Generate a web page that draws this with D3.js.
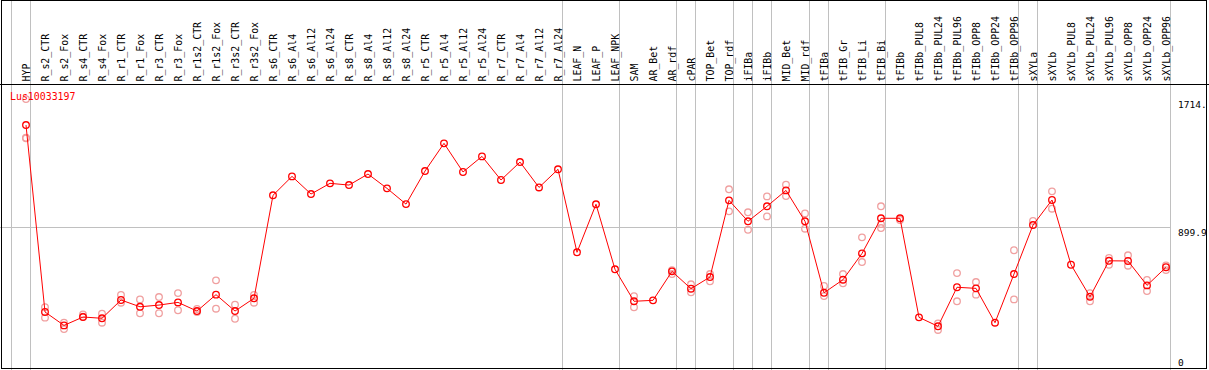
<!DOCTYPE html>
<html>
<head>
<meta charset="utf-8">
<script src="https://cdn.jsdelivr.net/npm/d3@7"></script>
<style>
  html, body { margin: 0; padding: 0; background: #fff; }
  svg { display: block; }
  text { font-family: 'DejaVu Sans Mono', monospace; }
</style>
</head>
<body>
<div id="chart"></div>
<script>
const geneName = 'Lus10033197'

const categories = [
  'HYP', 'R_s2_CTR', 'R_s2_Fox', 'R_s4_CTR', 'R_s4_Fox', 'R_r1_CTR', 'R_r1_Fox',
  'R_r3_CTR', 'R_r3_Fox', 'R_r1s2_CTR', 'R_r1s2_Fox', 'R_r3s2_CTR', 'R_r3s2_Fox',
  'R_s6_CTR', 'R_s6_Al4', 'R_s6_Al12', 'R_s6_Al24', 'R_s8_CTR', 'R_s8_Al4',
  'R_s8_Al12', 'R_s8_Al24', 'R_r5_CTR', 'R_r5_Al4', 'R_r5_Al12', 'R_r5_Al24',
  'R_r7_CTR', 'R_r7_Al4', 'R_r7_Al12', 'R_r7_Al24', 'LEAF_N', 'LEAF_P', 'LEAF_NPK',
  'SAM', 'AR_Bet', 'AR_rdf', 'cPAR', 'TOP_Bet', 'TOP_rdf', 'iFIBa', 'iFIBb',
  'MID_Bet', 'MID_rdf', 'tFIBa', 'tFIB_Gr', 'tFIB_Li', 'tFIB_Bi', 'tFIBb',
  'tFIBb_PUL8', 'tFIBb_PUL24', 'tFIBb_PUL96', 'tFIBb_OPP8', 'tFIBb_OPP24', 'tFIBb_OPP96',
  'sXYLa', 'sXYLb', 'sXYLb_PUL8', 'sXYLb_PUL24', 'sXYLb_PUL96', 'sXYLb_OPP8',
  'sXYLb_OPP24', 'sXYLb_OPP96',
]

// mean expression per sample
const means = [
  1549, 362, 277, 330, 322, 438, 395, 406, 423, 368, 472, 368, 449,
  1103, 1223, 1111, 1179, 1168, 1238, 1147, 1047, 1257, 1433, 1251, 1350,
  1200, 1314, 1153, 1268, 741, 1046, 633,
  430, 436, 620, 510, 584, 1071, 938, 1033, 1134, 938,
  484, 567, 734, 957, 957,
  328, 271, 519, 512, 294, 603,
  914, 1073, 662, 459, 687, 686, 531, 646,
]

// single replicates (faint circles)
const replicates = [
  [1714, 1468, 1465], [392, 326], [294, 254], [347, 332], [351, 294], [470, 421], [442, 354],
  [457, 354], [482, 373], [381, 362], [563, 383], [408, 319], [470, 421],
  [], [], [], [], [], [], [], [], [], [], [], [],
  [], [], [], [], [], [], [],
  [463, 392], [], [628, 603], [538, 487], [603, 557], [1141, 1001], [995, 884], [1096, 969],
  [1170, 1098], [988, 891],
  [527, 463], [603, 544], [836, 679], [1033, 895, 920], [946],
  [], [290, 248], [609, 430], [552, 472], [], [754, 442],
  [940], [1128, 1018], [], [482, 430], [705, 662], [722, 656], [565, 495], [658, 628],
]

// a grey separator follows each of these samples
const groupEnds = [
  'HYP', 'R_r7_Al24', 'LEAF_NPK', 'AR_rdf', 'cPAR', 'TOP_rdf', 'iFIBa', 'iFIBb',
  'MID_rdf', 'tFIBa', 'tFIB_Bi', 'tFIBb_OPP96', 'sXYLa', 'sXYLb_OPP96',
]

const yTickValues = [0, 899.9, 1714.5]
const yTickLabels = ['0', '899.9', '1714.']

const width = 1209
const height = 370
const headerBottom = 84.5
const plotRight = 1170.5

const svg = d3.select('#chart').append('svg')
    .attr('width', width)
    .attr('height', height)

const x = d3.scalePoint()
    .domain(categories)
    .range([26, 1166])

const step = x.step()

const y = d3.scaleLinear()
    .domain([0, 1714.5])
    .range([369, 99])

const sepX = i => Math.round(x(categories[0]) + step * i + 4) + 0.5

// grey separators, one before the first sample too
const seps = [-1].concat(groupEnds.map(d => categories.indexOf(d)))

svg.append('g')
    .selectAll('line')
    .data(seps)
    .join('line')
    .attr('x1', d => sepX(d))
    .attr('x2', d => sepX(d))
    .attr('y1', 0)
    .attr('y2', height)
    .attr('stroke', '#c0c0c0')
    .attr('stroke-width', 1)

// horizontal grid at the middle tick
svg.append('line')
    .attr('x1', 0)
    .attr('x2', plotRight)
    .attr('y1', Math.round(y(yTickValues[1])) + 0.5)
    .attr('y2', Math.round(y(yTickValues[1])) + 0.5)
    .attr('stroke', '#c0c0c0')
    .attr('stroke-width', 1)

// y labels on the right
svg.append('g')
    .selectAll('text')
    .data(yTickValues)
    .join('text')
    .attr('x', plotRight + 7.5)
    .attr('y', (d, i) => i === 0 ? 366 : y(d) + 9)
    .attr('font-size', '9.5px')
    .attr('fill', '#000')
    .text((d, i) => yTickLabels[i])

// sample labels in the header
svg.append('g')
    .selectAll('text')
    .data(categories)
    .join('text')
    .attr('transform', d => `translate(${x(d) + 4},${headerBottom - 3}) rotate(-90) scale(0.9,1)`)
    .attr('font-size', '11px')
    .attr('fill', '#000')
    .text(d => d)

// replicate circles
const repPoints = categories.flatMap((c, i) => replicates[i].map(v => ({ c, v })))

svg.append('g')
    .selectAll('circle')
    .data(repPoints)
    .join('circle')
    .attr('cx', d => x(d.c))
    .attr('cy', d => y(d.v))
    .attr('r', 3.3)
    .attr('fill', 'none')
    .attr('stroke', '#f0a0a0')
    .attr('stroke-width', 1.3)

const line = d3.line()
    .x((d, i) => x(categories[i]))
    .y(d => y(d))

svg.append('path')
    .datum(means)
    .attr('d', line)
    .attr('fill', 'none')
    .attr('stroke', '#ff0000')
    .attr('stroke-width', 1)

svg.append('g')
    .selectAll('circle')
    .data(means)
    .join('circle')
    .attr('cx', (d, i) => x(categories[i]))
    .attr('cy', d => y(d))
    .attr('r', 3.3)
    .attr('fill', 'none')
    .attr('stroke', '#ff0000')
    .attr('stroke-width', 1.3)

svg.append('text')
    .attr('x', 10)
    .attr('y', 100.5)
    .attr('font-size', '11px')
    .attr('transform', 'translate(1,0) scale(0.9,1)')
    .attr('fill', '#ff0000')
    .text(geneName)

// frame and header rule
svg.append('rect')
    .attr('x', 1.5)
    .attr('y', 0.5)
    .attr('width', 1205)
    .attr('height', 368)
    .attr('fill', 'none')
    .attr('stroke', '#000')
    .attr('stroke-width', 1)

svg.append('line')
    .attr('x1', 0)
    .attr('x2', width)
    .attr('y1', headerBottom)
    .attr('y2', headerBottom)
    .attr('stroke', '#000')
    .attr('stroke-width', 1)
</script>
</body>
</html>
